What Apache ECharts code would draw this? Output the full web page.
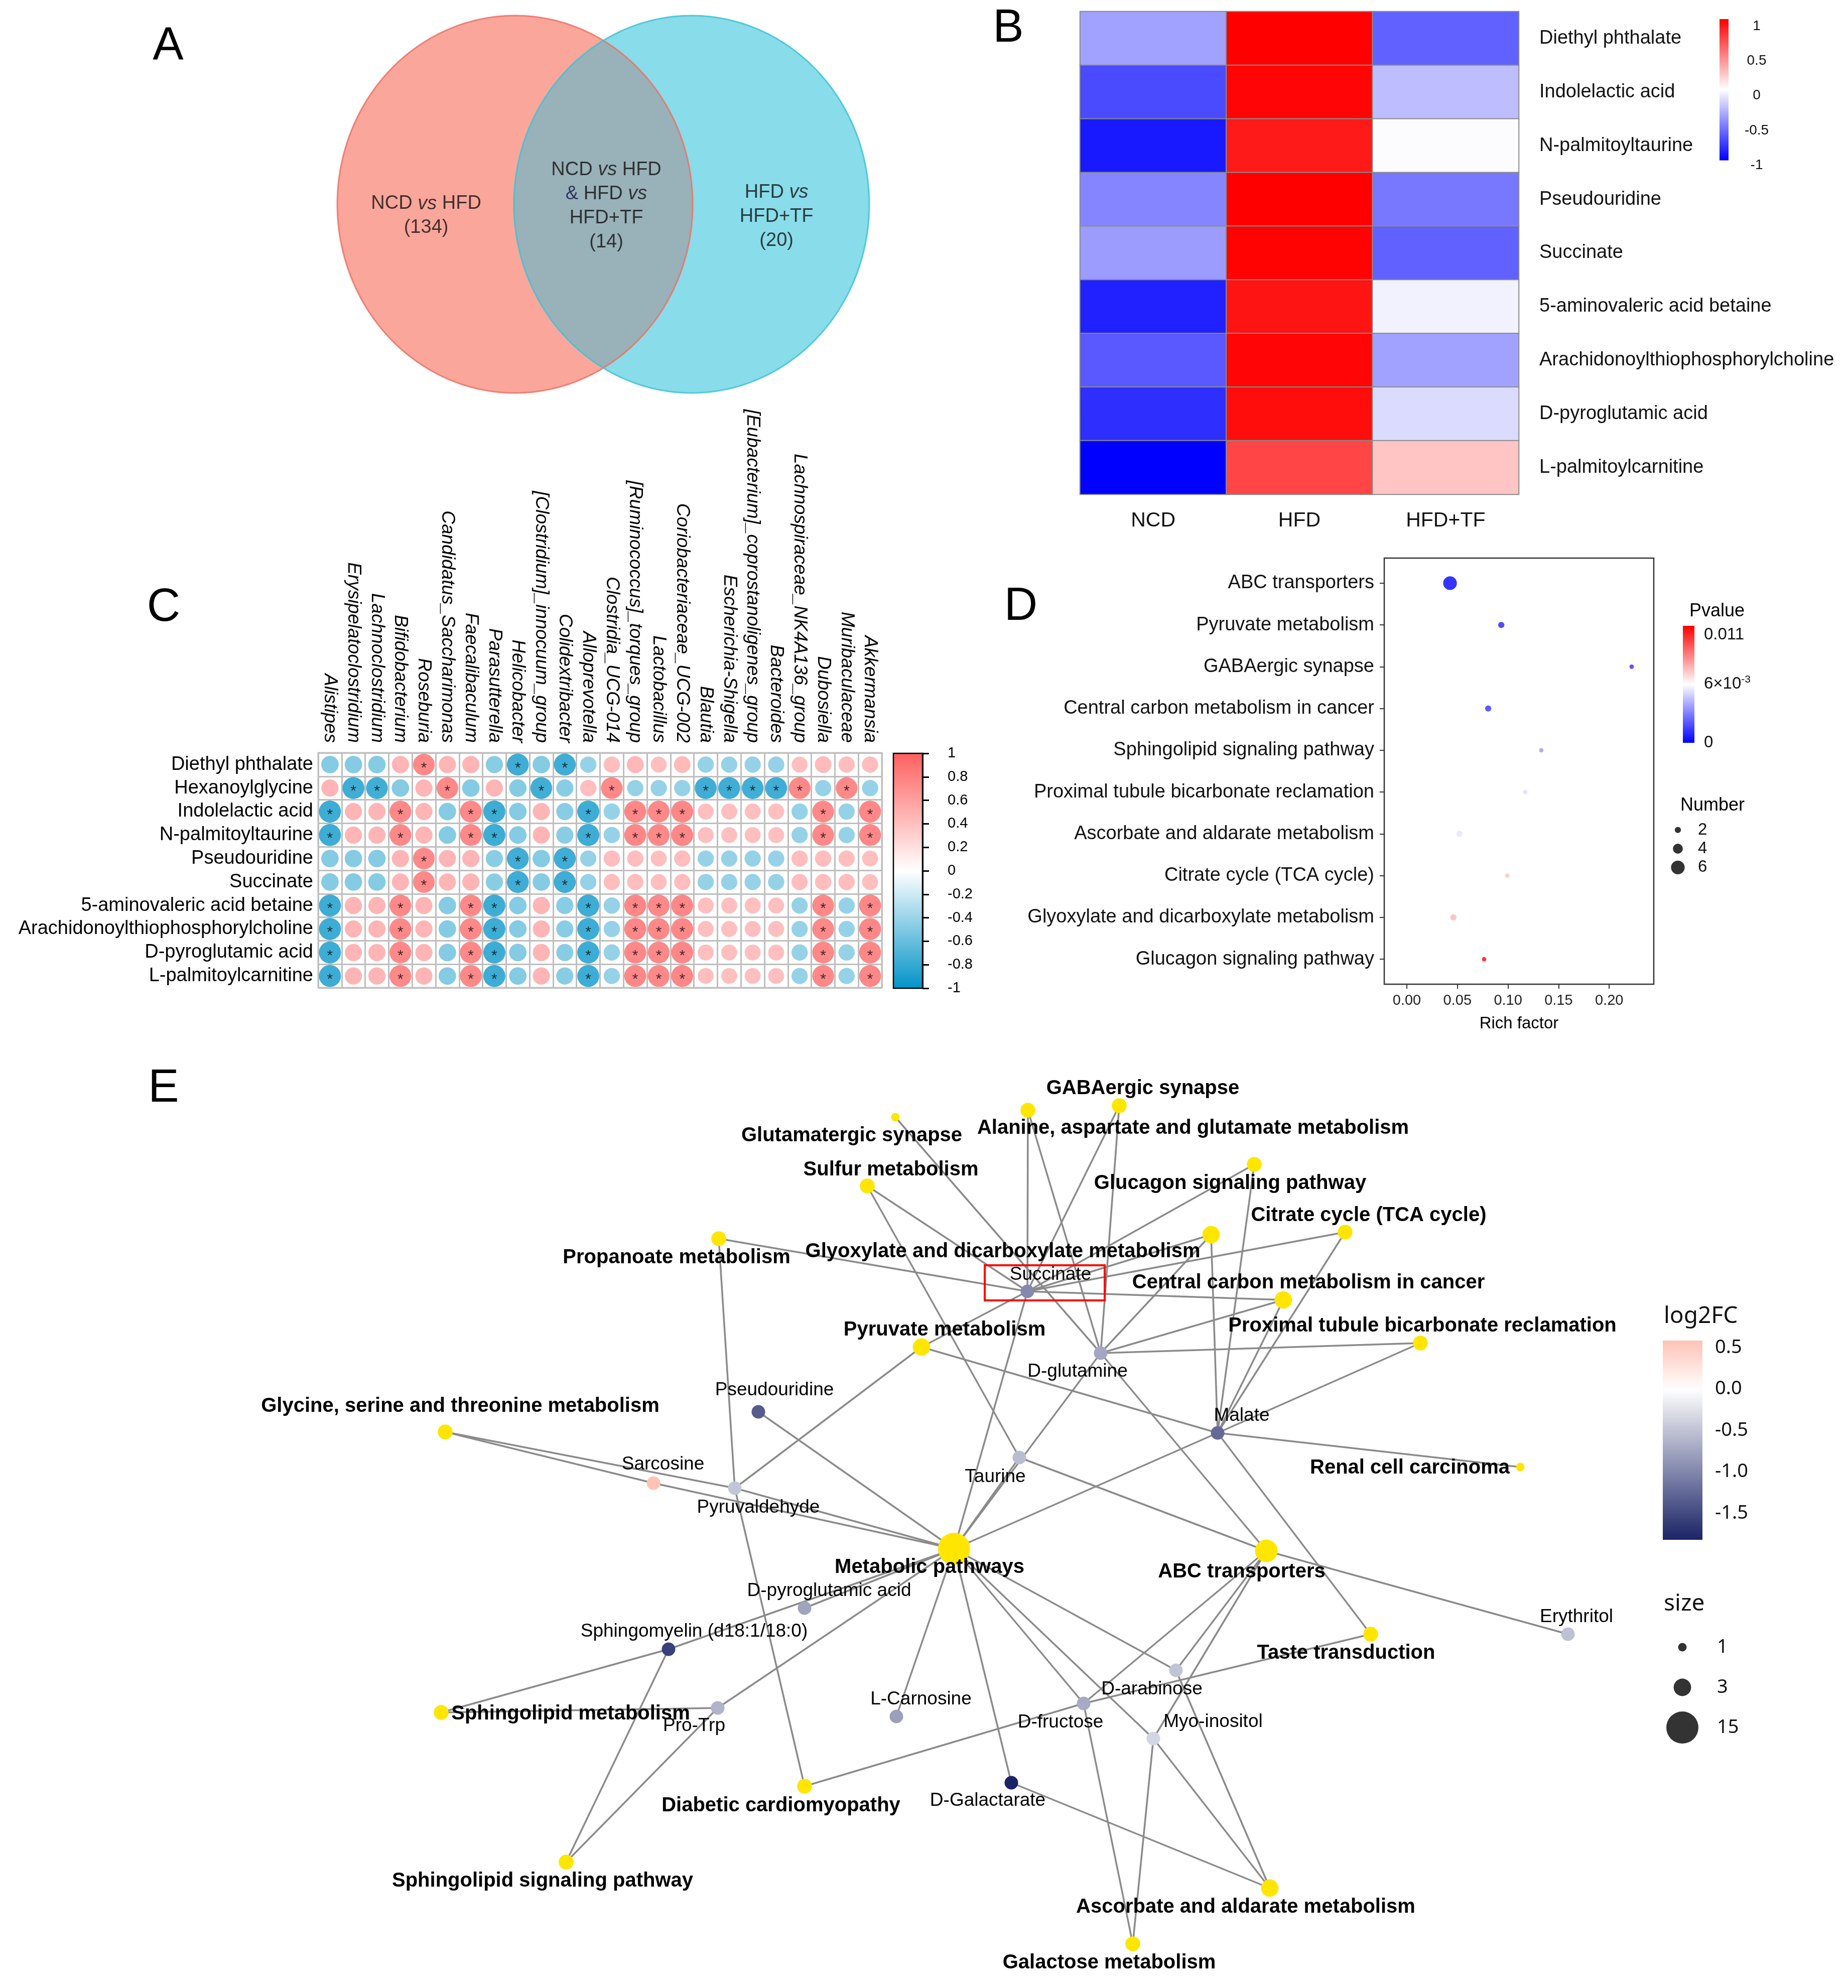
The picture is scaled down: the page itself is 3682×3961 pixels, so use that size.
<!DOCTYPE html>
<html><head><meta charset="utf-8">
<script src="https://cdn.jsdelivr.net/npm/echarts@6/dist/echarts.min.js"></script>
<style>html,body{margin:0;padding:0;background:#fff}#c{width:3682px;height:3961px}</style>
</head><body><div id="c"></div>
<script>
// ================= DATA =================
// ---- A: Venn ----
const vennCounts = [134, 14, 20];
const vennEllipses = [[-0.497, 0, 1, 1.062], [0.497, 0, 1, 1.062]];
const vennLabelPos = [[-0.997, -0.065], [0.017, -0.01], [0.975, -0.068]];

// ---- B: heatmap ----
const heatGroups = ['NCD', 'HFD', 'HFD+TF'];
const heatMetabolites = ['Diethyl phthalate', 'Indolelactic acid', 'N-palmitoyltaurine', 'Pseudouridine', 'Succinate',
  '5-aminovaleric acid betaine', 'Arachidonoylthiophosphorylcholine', 'D-pyroglutamic acid', 'L-palmitoylcarnitine'];
const heatNCD = [-0.37, -0.71, -0.90, -0.48, -0.39, -0.87, -0.65, -0.82, -1.00];
const heatHFD = [1.00, 0.98, 0.90, 1.00, 0.99, 0.92, 0.98, 0.95, 0.73];
const heatTF = [-0.62, -0.26, -0.01, -0.53, -0.62, -0.05, -0.37, -0.14, 0.23];
const heatTicks = [-1, -0.5, 0, 0.5, 1];

// ---- C: correlation ----
const corrGenera = ['Alistipes', 'Erysipelatoclostridium', 'Lachnoclostridium', 'Bifidobacterium', 'Roseburia',
  'Candidatus_Saccharimonas', 'Faecalibaculum', 'Parasutterella', 'Helicobacter', '[Clostridium]_innocuum_group',
  'Colidextribacter', 'Alloprevotella', 'Clostridia_UCG-014', '[Ruminococcus]_torques_group', 'Lactobacillus',
  'Coriobacteriaceae_UCG-002', 'Blautia', 'Escherichia-Shigella', '[Eubacterium]_coprostanoligenes_group',
  'Bacteroides', 'Lachnospiraceae_NK4A136_group', 'Dubosiella', 'Muribaculaceae', 'Akkermansia'];
const corrMetabolites = ['Diethyl phthalate', 'Hexanoylglycine', 'Indolelactic acid', 'N-palmitoyltaurine', 'Pseudouridine',
  'Succinate', '5-aminovaleric acid betaine', 'Arachidonoylthiophosphorylcholine', 'D-pyroglutamic acid', 'L-palmitoylcarnitine'];
const corrDiethyl   = [-0.60,-0.60,-0.60, 0.58, 0.92, 0.58, 0.58,-0.58,-0.94,-0.60,-0.94,-0.52, 0.52, 0.56, 0.50, 0.54,-0.52,-0.52,-0.52,-0.52, 0.50, 0.54, 0.52, 0.52];
const corrHexanoyl  = [ 0.58,-0.94,-0.93,-0.60, 0.58, 0.92,-0.60, 0.58,-0.60,-0.93,-0.58, 0.52, 0.92,-0.52,-0.52,-0.52,-0.94,-0.94,-0.93,-0.94, 0.92,-0.52, 0.92,-0.52];
const corrIndole    = [-0.95, 0.58, 0.58, 0.93, 0.58,-0.60, 0.93,-0.95,-0.60, 0.58,-0.58,-0.95,-0.52, 0.94, 0.93, 0.94, 0.50, 0.50, 0.50, 0.50,-0.52, 0.93,-0.52, 0.94];
const corrNpalm     = [-0.95, 0.58, 0.58, 0.93, 0.58,-0.60, 0.93,-0.95,-0.60, 0.58,-0.58,-0.95,-0.52, 0.94, 0.93, 0.94, 0.50, 0.50, 0.50, 0.50,-0.52, 0.93,-0.52, 0.94];
const corrPseudo    = [-0.60,-0.60,-0.60, 0.58, 0.92, 0.58, 0.58,-0.58,-0.94,-0.60,-0.94,-0.52, 0.52, 0.52, 0.50, 0.52,-0.52,-0.52,-0.52,-0.52, 0.52, 0.52, 0.52, 0.50];
const corrSuccinate = [-0.60,-0.60,-0.60, 0.58, 0.92, 0.58, 0.58,-0.58,-0.94,-0.60,-0.94,-0.52, 0.52, 0.52, 0.50, 0.52,-0.52,-0.52,-0.52,-0.52, 0.52, 0.52, 0.52, 0.50];
const corrAminoval  = [-0.95, 0.58, 0.58, 0.93, 0.58,-0.60, 0.93,-0.95,-0.60, 0.58,-0.58,-0.95,-0.52, 0.94, 0.93, 0.94, 0.50, 0.50, 0.50, 0.50,-0.52, 0.93,-0.52, 0.94];
const corrArachid   = [-0.95, 0.58, 0.58, 0.93, 0.58,-0.60, 0.93,-0.95,-0.60, 0.58,-0.58,-0.95,-0.52, 0.94, 0.93, 0.94, 0.50, 0.50, 0.50, 0.50,-0.52, 0.93,-0.52, 0.94];
const corrPyroglu   = [-0.95, 0.58, 0.58, 0.93, 0.58,-0.60, 0.93,-0.95,-0.60, 0.58,-0.58,-0.95,-0.52, 0.94, 0.93, 0.94, 0.50, 0.50, 0.50, 0.50,-0.52, 0.93,-0.52, 0.94];
const corrLpalm     = [-0.95, 0.58, 0.58, 0.93, 0.58,-0.60, 0.93,-0.95,-0.60, 0.58,-0.58,-0.95,-0.52, 0.94, 0.93, 0.94, 0.50, 0.50, 0.50, 0.50,-0.52, 0.93,-0.52, 0.94];

// ---- D: enrichment ----
const dPathways = ['ABC transporters', 'Pyruvate metabolism', 'GABAergic synapse', 'Central carbon metabolism in cancer',
  'Sphingolipid signaling pathway', 'Proximal tubule bicarbonate reclamation', 'Ascorbate and aldarate metabolism',
  'Citrate cycle (TCA cycle)', 'Glyoxylate and dicarboxylate metabolism', 'Glucagon signaling pathway'];
const dRichFactor = [0.0427, 0.0933, 0.2222, 0.0804, 0.1329, 0.1171, 0.0521, 0.0992, 0.0461, 0.0764];
const dPvalue = [0.00005, 0.0008, 0.0010, 0.0012, 0.0036, 0.0051, 0.0053, 0.0074, 0.0077, 0.0119];
const dNumber = [6, 2, 1, 2, 1, 1, 2, 1, 2, 1];
const dXTicks = [0, 0.05, 0.10, 0.15, 0.20];
const dPTicks = [0, 0.006, 0.011];
const dNumberLegend = [2, 4, 6];

// ---- E: network ----
const ePathways = ['Glutamatergic synapse', 'Alanine, aspartate and glutamate metabolism', 'GABAergic synapse',
  'Sulfur metabolism', 'Propanoate metabolism', 'Glyoxylate and dicarboxylate metabolism', 'Glucagon signaling pathway',
  'Citrate cycle (TCA cycle)', 'Central carbon metabolism in cancer', 'Proximal tubule bicarbonate reclamation',
  'Pyruvate metabolism', 'Glycine, serine and threonine metabolism', 'Renal cell carcinoma', 'Metabolic pathways',
  'ABC transporters', 'Taste transduction', 'Ascorbate and aldarate metabolism', 'Galactose metabolism',
  'Sphingolipid metabolism', 'Sphingolipid signaling pathway', 'Diabetic cardiomyopathy'];
const eMetabolites = ['Succinate', 'D-glutamine', 'Malate', 'Taurine', 'Pseudouridine', 'Sarcosine', 'Pyruvaldehyde',
  'D-pyroglutamic acid', 'Sphingomyelin (d18:1/18:0)', 'Pro-Trp', 'L-Carnosine', 'D-Galactarate', 'D-fructose',
  'D-arabinose', 'Myo-inositol', 'Erythritol'];
const eLog2FC = [-0.98, -0.73, -1.24, -0.55, -1.36, 0.585, -0.48, -0.76, -1.58, -0.63, -0.80, -1.82, -0.71, -0.49, -0.35, -0.52];
const eEdges = [
  ['Glutamatergic synapse', 'D-glutamine'],
  ['Alanine, aspartate and glutamate metabolism', 'Succinate'], ['Alanine, aspartate and glutamate metabolism', 'D-glutamine'],
  ['GABAergic synapse', 'Succinate'], ['GABAergic synapse', 'D-glutamine'],
  ['Sulfur metabolism', 'Succinate'], ['Sulfur metabolism', 'Taurine'],
  ['Propanoate metabolism', 'Succinate'], ['Propanoate metabolism', 'Pyruvaldehyde'],
  ['Glyoxylate and dicarboxylate metabolism', 'Succinate'], ['Glyoxylate and dicarboxylate metabolism', 'D-glutamine'], ['Glyoxylate and dicarboxylate metabolism', 'Malate'],
  ['Glucagon signaling pathway', 'Succinate'], ['Glucagon signaling pathway', 'Malate'],
  ['Citrate cycle (TCA cycle)', 'Succinate'], ['Citrate cycle (TCA cycle)', 'Malate'],
  ['Central carbon metabolism in cancer', 'Succinate'], ['Central carbon metabolism in cancer', 'D-glutamine'], ['Central carbon metabolism in cancer', 'Malate'],
  ['Proximal tubule bicarbonate reclamation', 'D-glutamine'], ['Proximal tubule bicarbonate reclamation', 'Malate'],
  ['Pyruvate metabolism', 'Succinate'], ['Pyruvate metabolism', 'Pyruvaldehyde'], ['Pyruvate metabolism', 'Malate'],
  ['Glycine, serine and threonine metabolism', 'Sarcosine'], ['Glycine, serine and threonine metabolism', 'Pyruvaldehyde'],
  ['Renal cell carcinoma', 'Malate'],
  ['Metabolic pathways', 'Succinate'], ['Metabolic pathways', 'D-glutamine'], ['Metabolic pathways', 'Taurine'],
  ['Metabolic pathways', 'Malate'], ['Metabolic pathways', 'Pseudouridine'], ['Metabolic pathways', 'Sarcosine'],
  ['Metabolic pathways', 'Pyruvaldehyde'], ['Metabolic pathways', 'D-pyroglutamic acid'], ['Metabolic pathways', 'Sphingomyelin (d18:1/18:0)'],
  ['Metabolic pathways', 'Pro-Trp'], ['Metabolic pathways', 'L-Carnosine'], ['Metabolic pathways', 'D-Galactarate'],
  ['Metabolic pathways', 'D-fructose'], ['Metabolic pathways', 'Myo-inositol'], ['Metabolic pathways', 'D-arabinose'],
  ['ABC transporters', 'Taurine'], ['ABC transporters', 'D-glutamine'], ['ABC transporters', 'D-arabinose'],
  ['ABC transporters', 'D-fructose'], ['ABC transporters', 'Myo-inositol'], ['ABC transporters', 'Erythritol'],
  ['Taste transduction', 'Malate'], ['Taste transduction', 'D-fructose'],
  ['Ascorbate and aldarate metabolism', 'D-Galactarate'], ['Ascorbate and aldarate metabolism', 'D-arabinose'], ['Ascorbate and aldarate metabolism', 'Myo-inositol'],
  ['Galactose metabolism', 'D-fructose'], ['Galactose metabolism', 'Myo-inositol'],
  ['Sphingolipid metabolism', 'Sphingomyelin (d18:1/18:0)'], ['Sphingolipid metabolism', 'Pro-Trp'],
  ['Sphingolipid signaling pathway', 'Sphingomyelin (d18:1/18:0)'], ['Sphingolipid signaling pathway', 'Pro-Trp'],
  ['Diabetic cardiomyopathy', 'Pyruvaldehyde'], ['Diabetic cardiomyopathy', 'D-fructose']
];
const eLog2FCTicks = [-1.5, -1.0, -0.5, 0.0, 0.5];
const eSizeLegend = [1, 3, 15];

// ================= LAYOUT (positions / styles) =================
const ePathwayXY = [[1784,2226],[2048,2212],[2230,2203],[1728,2363],[1432,2468],[2413,2460],[2499,2320],[2680,2455],
  [2557,2590],[2830,2676],[1836,2684],[887,2853],[3029,2923],[1901,3086],[2523,3090],[2731,3256],[2530,3762],[2257,3873],
  [879,3412],[1128,3710],[1603,3559]];
const ePathwayLabelOff = [[-87,37],[329,36],[47,-34],[47,-32],[-84,38],[-415,34],[-48,38],[47,-33],[50,-34],[4,-34],
  [46,-34],[30,-51],[-220,2],[-49,37],[-49,42],[-49,38],[-48,38],[-47,38],[258,3],[-47,38],[-47,39]];
const eMetaboliteXY = [[2047,2573],[2193,2696],[2426,2855],[2031,2904],[1511,2813],[1302,2955],[1464,2965],[1603,3204],
  [1332,3286],[1430,3403],[1786,3420],[2015,3552],[2159,3394],[2343,3328],[2298,3464],[3124,3256]];
const eMetaboliteLabelOff = [[46,-33],[-46,37],[48,-34],[-48,39],[32,-43],[19,-37],[47,39],[49,-34],[51,-35],[-47,36],
  [49,-34],[-47,36],[-46,38],[-48,38],[119,-33],[17,-34]];
const eHighlightBox = [[1962, 2521, 2201, 2591]];

const FONT = 'Liberation Sans';
const LFONT = 'Noto Sans';

// ================= HELPERS =================
function hex2rgb(h){return [parseInt(h.slice(1,3),16),parseInt(h.slice(3,5),16),parseInt(h.slice(5,7),16)];}
function mix(a,b,t){const A=hex2rgb(a),B=hex2rgb(b);return 'rgb('+A.map((v,i)=>Math.round(v+(B[i]-v)*t)).join(',')+')';}
const E_LOW='#1B2466', E_HIGH='#FF431B', E_MAXABS=1.82;
function fcColor(v){ return v<0 ? mix('#FFFFFF',E_LOW,Math.min(1,-v/E_MAXABS)) : mix('#FFFFFF',E_HIGH,Math.min(1,v/E_MAXABS)); }
function pathwaySize(n){ return 17 + 47*Math.sqrt((n-1)/14); }
function dSize(n){ return 5 + 3.7*n; }

function colorbar(axisIdx, lo, hi, stops, stroke){
  return {type:'custom', xAxisIndex:axisIdx, yAxisIndex:axisIdx, silent:true, animation:false, data:[[lo,hi]],
    renderItem:(params, api)=>{
      const p0=api.coord([0, api.value(0)]), p1=api.coord([1, api.value(1)]);
      return {type:'rect', shape:{x:p0[0], y:p1[1], width:p1[0]-p0[0], height:p0[1]-p1[1]},
        style:{fill:new echarts.graphic.LinearGradient(0,1,0,0,stops), stroke:stroke||null, lineWidth:stroke?2.5:0}};
    }};
}
function hiddenValueAxis(gridIndex, min, max, extra){
  return Object.assign({type:'value', gridIndex, min, max, show:false, splitLine:{show:false}, axisLine:{onZero:false}}, extra||{});
}
function txt(text, x, y, size, align, extra){
  return Object.assign({type:'text', x, y, z:100, style:{text, font:size+'px "'+FONT+'"', fill:'#000',
    textAlign:align||'center', align:align||'center', textVerticalAlign:'middle', verticalAlign:'middle'}}, extra||{});
}

// ================= BUILD =================
const heatData = [];
heatMetabolites.forEach((m,i)=>{ heatData.push([0,i,heatNCD[i]]); heatData.push([1,i,heatHFD[i]]); heatData.push([2,i,heatTF[i]]); });

const corrRows = [corrDiethyl, corrHexanoyl, corrIndole, corrNpalm, corrPseudo, corrSuccinate, corrAminoval, corrArachid, corrPyroglu, corrLpalm];
const corrData = [];
corrRows.forEach((row,i)=>row.forEach((v,j)=>corrData.push([j,i,v])));

const dData = dPathways.map((p,i)=>[dRichFactor[i], i, dPvalue[i], dNumber[i]]);

// network nodes
const deg = {}; eEdges.forEach(([p])=>{deg[p]=(deg[p]||0)+1;});
const nodes = [];
function lblPos(size, off){ return [size/2 + off[0], size/2 + off[1]]; }
ePathways.forEach((p,i)=>{ const s=pathwaySize(deg[p]); nodes.push({name:p, value:ePathwayXY[i], symbolSize:s,
  itemStyle:{color:'#FFE600'},
  label:{show:true, position:lblPos(s, ePathwayLabelOff[i]), align:'center', verticalAlign:'middle',
    fontSize:40, fontWeight:'bold', fontFamily:FONT, color:'#000'}}); });
eMetabolites.forEach((m,i)=>{ const s=27; nodes.push({name:m, value:eMetaboliteXY[i], symbolSize:s,
  itemStyle:{color:fcColor(eLog2FC[i])},
  label:{show:true, position:lblPos(s, eMetaboliteLabelOff[i]), align:'center', verticalAlign:'middle',
    fontSize:37, fontFamily:FONT, color:'#000'}}); });
const links = eEdges.map(([s,t])=>({source:s, target:t}));

const fcMin = Math.min(...eLog2FC), fcMax = Math.max(...eLog2FC);
const fcStops = [];
for(let k=0;k<=20;k++){ const v=fcMin+(fcMax-fcMin)*k/20; fcStops.push({offset:k/20, color:fcColor(v)}); }

const vennText = [
  '{n|NCD }{i|vs}{n| HFD}\n{n|('+vennCounts[0]+')}',
  '{n|NCD }{i|vs}{n| HFD}\n{a|&}{n| HFD }{i|vs}\n{n|HFD+TF}\n{n|('+vennCounts[1]+')}',
  '{n|HFD }{i|vs}\n{n|HFD+TF}\n{n|('+vennCounts[2]+')}'
];
const vennFill = ['#FBA69B', '#89DCE9'];
const vennLensFill = '#99B1B8';
const vennStroke = ['rgba(240,112,100,0.85)', 'rgba(60,195,215,0.85)'];

function ellipsePts(api, e, t0, t1, n){
  const pts=[]; for(let k=0;k<=n;k++){ const a=t0+(t1-t0)*k/n; pts.push(api.coord([e[0]+e[2]*Math.cos(a), e[1]+e[3]*Math.sin(a)])); } return pts;
}

const option = {
  animation:false,
  backgroundColor:'#fff',
  textStyle:{fontFamily:FONT},
  grid:[
    {left:494, top:17.6, width:1416, height:778.8},             //0 venn
    {left:2152, top:23, width:874, height:962},                //1 heatmap
    {left:3426, top:38, width:18, height:305},                 //2 B colorbar
    {left:634, top:1500, width:1123, height:468, show:true, borderColor:'#BEBEBE', borderWidth:3}, //3 corr
    {left:1780, top:1501, width:58, height:468},               //4 C colorbar
    {left:2758, top:1112, width:537, height:849, show:true, borderColor:'#333', borderWidth:2.5}, //5 D
    {left:3353, top:1247, width:23, height:233},               //6 D pvalue bar
    {left:3323, top:1635, width:40, height:112},               //7 D number legend
    {left:0, top:0, width:3682, height:3961},                  //8 network
    {left:3313, top:2671, width:79, height:397},               //9 log2FC bar
    {left:3312, top:3242, width:80, height:240}                //10 size legend
  ],
  xAxis:[
    hiddenValueAxis(0,-2,2),
    {type:'category', gridIndex:1, data:heatGroups, position:'bottom', axisLine:{show:false}, axisTick:{show:false},
      axisLabel:{fontSize:41, color:'#111', margin:32, interval:0}},
    hiddenValueAxis(2,0,1),
    {type:'category', gridIndex:3, data:corrGenera, position:'top', axisLine:{show:false}, axisTick:{show:false},
      splitLine:{show:true, interval:0, lineStyle:{color:'#BEBEBE', width:3}},
      axisLabel:{rotate:90, interval:0, fontSize:37, fontStyle:'italic', color:'#000', margin:20}},
    hiddenValueAxis(4,0,1),
    {type:'value', gridIndex:5, min:-0.02232, max:0.24405, splitLine:{show:false},
      axisLine:{show:false, onZero:false}, axisTick:{show:true, customValues:dXTicks, length:9, lineStyle:{color:'#333', width:2}},
      axisLabel:{customValues:dXTicks, formatter:v=>v.toFixed(2), fontSize:29, color:'#222', margin:18},
      name:'Rich factor', nameLocation:'middle', nameGap:62, nameTextStyle:{fontSize:33, color:'#000'}},
    hiddenValueAxis(6,0,1),
    hiddenValueAxis(7,0,1),
    hiddenValueAxis(8,0,3682),
    hiddenValueAxis(9,0,1),
    hiddenValueAxis(10,0,1)
  ],
  yAxis:[
    hiddenValueAxis(0,-1.1,1.1),
    {type:'category', gridIndex:1, data:heatMetabolites, inverse:true, position:'right', axisLine:{show:false}, axisTick:{show:false},
      axisLabel:{fontSize:38, color:'#111', margin:41, interval:0}},
    {type:'value', gridIndex:2, min:-1.1, max:1.1, position:'right', splitLine:{show:false}, axisLine:{show:false, onZero:false}, axisTick:{show:false},
      axisLabel:{customValues:heatTicks, formatter:v=>String(v), fontSize:28, color:'#111', align:'center', margin:56}},
    {type:'category', gridIndex:3, data:corrMetabolites, inverse:true, axisLine:{show:false}, axisTick:{show:false},
      splitLine:{show:true, interval:0, lineStyle:{color:'#BEBEBE', width:3}},
      axisLabel:{interval:0, fontSize:38, color:'#000', margin:10}},
    {type:'value', gridIndex:4, min:-1, max:1, interval:0.2, position:'right', splitLine:{show:false},
      axisLine:{show:true, onZero:false, lineStyle:{color:'#000', width:3}},
      axisTick:{show:true, length:13, lineStyle:{color:'#000', width:3}},
      axisLabel:{formatter:v=>String(parseFloat(v.toFixed(1))), fontSize:29, color:'#000', margin:50}},
    {type:'value', gridIndex:5, min:-0.6, max:9.6, inverse:true, splitLine:{show:false}, axisLine:{show:false, onZero:false},
      axisTick:{show:true, customValues:dPathways.map((p,i)=>i), length:9, lineStyle:{color:'#333', width:2}},
      axisLabel:{customValues:dPathways.map((p,i)=>i), formatter:v=>dPathways[Math.round(v)], fontSize:38, color:'#111', margin:20}},
    {type:'value', gridIndex:6, min:0, max:0.0119, position:'right', splitLine:{show:false}, axisLine:{show:false, onZero:false}, axisTick:{show:false},
      axisLabel:{customValues:dPTicks, fontSize:33, color:'#111', margin:19,
        formatter:v=> (Math.abs(v-0.006)<1e-9 ? '6×10{sup|-3}' : (v===0?'0':String(v))),
        rich:{sup:{fontSize:21, fontFamily:FONT, color:'#111', padding:[0,0,16,0]}}}},
    {type:'category', gridIndex:7, data:dNumberLegend.map(String), inverse:true, position:'right', axisLine:{show:false}, axisTick:{show:false},
      axisLabel:{fontSize:33, color:'#111', margin:20, interval:0}},
    {type:'value', gridIndex:8, min:0, max:3961, inverse:true, show:false, splitLine:{show:false}, axisLine:{onZero:false}},
    {type:'value', gridIndex:9, min:fcMin, max:fcMax, position:'right', splitLine:{show:false}, axisLine:{show:false, onZero:false},
      axisTick:{show:true, inside:true, customValues:eLog2FCTicks, length:13, lineStyle:{color:'#fff', width:2}},
      axisLabel:{customValues:eLog2FCTicks, formatter:v=>v.toFixed(1), fontSize:38, fontFamily:LFONT, color:'#111', margin:25}},
    {type:'category', gridIndex:10, data:eSizeLegend.map(String), inverse:true, position:'right', axisLine:{show:false}, axisTick:{show:false},
      axisLabel:{fontSize:38, fontFamily:LFONT, color:'#111', margin:29, interval:0}},
    {type:'value', gridIndex:9, min:fcMin, max:fcMax, position:'left', splitLine:{show:false}, axisLine:{show:false, onZero:false},
      axisTick:{show:true, inside:true, customValues:eLog2FCTicks, length:13, lineStyle:{color:'#fff', width:2}},
      axisLabel:{show:false}}
  ],
  visualMap:[
    {type:'continuous', show:false, seriesIndex:2, dimension:2, min:-1, max:1, inRange:{color:['#0000FF','#FFFFFF','#FF0000']}},
    {type:'continuous', show:false, seriesIndex:4, dimension:2, min:-1, max:1, inRange:{color:['#0093C7','#FFFFFF','#FF5F5F']}},
    {type:'continuous', show:false, seriesIndex:6, dimension:2, min:0, max:0.0119, inRange:{color:['#0000FF','#FFFFFF','#FF0000']}}
  ],
  series:[
    // 0 Venn ellipses (fills, overlap lens, outlines)
    {type:'custom', xAxisIndex:0, yAxisIndex:0, silent:true, data:vennEllipses,
      renderItem:(params, api)=>{
        const i=params.dataIndex;
        const e=[api.value(0), api.value(1), api.value(2), api.value(3)];
        const full = ellipsePts(api, e, 0, 2*Math.PI, 240);
        if(i===0) return {type:'polygon', shape:{points:full}, style:{fill:vennFill[0]}};
        const L=vennEllipses[0], R=e;
        const th = Math.acos(((R[0]-L[0])/2)/L[2]);
        const lens = ellipsePts(api, L, -th, th, 80).concat(ellipsePts(api, R, Math.PI-th, Math.PI+th, 80));
        return {type:'group', children:[
          {type:'polygon', shape:{points:full}, style:{fill:vennFill[1]}},
          {type:'polygon', shape:{points:lens}, style:{fill:vennLensFill}},
          {type:'polygon', shape:{points:ellipsePts(api, L, 0, 2*Math.PI, 240)}, style:{fill:null, stroke:vennStroke[0], lineWidth:3}},
          {type:'polygon', shape:{points:full}, style:{fill:null, stroke:vennStroke[1], lineWidth:3}}
        ]};
      }},
    // 1 Venn labels
    {type:'scatter', xAxisIndex:0, yAxisIndex:0, silent:true, symbolSize:1, itemStyle:{color:'rgba(0,0,0,0)'}, z:5,
      data:vennLabelPos.map((p,i)=>({value:p, label:{formatter:vennText[i]}})),
      label:{show:true, position:'inside', lineHeight:47,
        rich:{n:{fontSize:38, fontFamily:FONT, color:'#111', lineHeight:48},
              i:{fontSize:38, fontFamily:FONT, fontStyle:'italic', color:'#111', lineHeight:48},
              a:{fontSize:38, fontFamily:FONT, color:'#14144a', lineHeight:48}}}},
    // 2 heatmap
    {type:'heatmap', xAxisIndex:1, yAxisIndex:1, data:heatData, silent:true,
      itemStyle:{borderColor:'#8a8a8a', borderWidth:2}},
    // 3 B colorbar
    colorbar(2, -0.93, 1.1, [{offset:0,color:'#0000FF'},{offset:0.5,color:'#FFFFFF'},{offset:1,color:'#FF0000'}]),
    // 4 corr
    {type:'scatter', xAxisIndex:3, yAxisIndex:3, data:corrData, silent:true,
      symbolSize:v=>45*Math.sqrt(Math.abs(v[2])),
      label:{show:true, position:'inside', offset:[0,7], fontSize:30, color:'#111', formatter:p=>Math.abs(p.value[2])>=0.8?'*':''}},
    // 5 C colorbar
    colorbar(4, -1, 1, [{offset:0,color:'#0093C7'},{offset:0.5,color:'#FFFFFF'},{offset:1,color:'#FF5F5F'}], '#000'),
    // 6 D scatter
    {type:'scatter', xAxisIndex:5, yAxisIndex:5, data:dData, silent:true, symbolSize:v=>dSize(v[3])},
    // 7 D pvalue bar
    colorbar(6, 0, 0.0119, [{offset:0,color:'#0000FF'},{offset:0.5,color:'#FFFFFF'},{offset:1,color:'#FF0000'}]),
    // 8 D number legend
    {type:'scatter', xAxisIndex:7, yAxisIndex:7, silent:true, itemStyle:{color:'#000'},
      data:dNumberLegend.map(n=>[0.5, String(n), n]), symbolSize:v=>dSize(v[2])},
    // 9 network
    {type:'graph', coordinateSystem:'cartesian2d', xAxisIndex:8, yAxisIndex:8, silent:true, symbol:'circle',
      data:nodes, links:links, lineStyle:{color:'#8a8a8a', width:3.5, opacity:1, curveness:0},
      emphasis:{disabled:true}, labelLayout:{hideOverlap:false}},
    // 10 highlight box
    {type:'custom', xAxisIndex:8, yAxisIndex:8, silent:true, data:eHighlightBox, z:10,
      renderItem:(params, api)=>{
        const a=api.coord([api.value(0),api.value(1)]), b=api.coord([api.value(2),api.value(3)]);
        return {type:'rect', shape:{x:a[0], y:a[1], width:b[0]-a[0], height:b[1]-a[1]}, style:{fill:null, stroke:'#FF0000', lineWidth:4}};
      }},
    // 11 log2FC bar
    colorbar(9, fcMin, fcMax, fcStops),
    // 12 size legend
    {type:'scatter', xAxisIndex:10, yAxisIndex:10, silent:true, itemStyle:{color:'#000'},
      data:eSizeLegend.map(n=>[0.5, String(n), n]), symbolSize:v=>pathwaySize(v[2])}
  ],
  graphic:[
    txt('A', 335, 94, 92), txt('B', 2009, 58, 92), txt('C', 326, 1212, 92), txt('D', 2034, 1210, 92), txt('E', 326, 2170, 92),
    txt('Pvalue', 3366, 1218, 36, 'left'), txt('Number', 3348, 1605, 36, 'left'),
    {type:'text', x:3315, y:2623, z:100, style:{text:'log2FC', font:'46px "'+LFONT+'"', fill:'#111', textAlign:'left', align:'left', textVerticalAlign:'middle', verticalAlign:'middle'}},
    {type:'text', x:3315, y:3196, z:100, style:{text:'size', font:'46px "'+LFONT+'"', fill:'#111', textAlign:'left', align:'left', textVerticalAlign:'middle', verticalAlign:'middle'}}
  ]
};
const chart = echarts.init(document.getElementById('c'), null, {renderer:'canvas'});
chart.setOption(option);
</script></body></html>
